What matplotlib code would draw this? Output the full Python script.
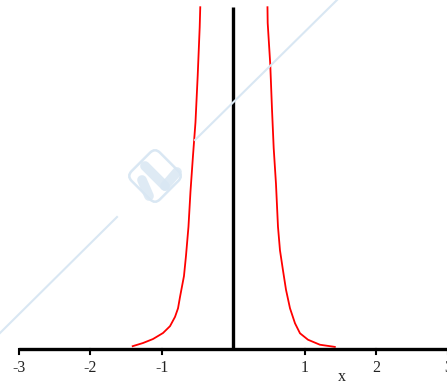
import numpy as np
import matplotlib
matplotlib.use("Agg")
import matplotlib.pyplot as plt
from matplotlib import transforms
from matplotlib.patches import FancyBboxPatch

# curve (left and right branches)
x_left = [-1.407, -1.263, -1.123, -0.983, -0.885, -0.815, -0.773, -0.745,
          -0.69, -0.662, -0.627, -0.599, -0.564, -0.529, -0.498, -0.47, -0.462]
y_left = [0.04, 0.084, 0.14, 0.224, 0.32, 0.45, 0.57, 0.73,
          1.02, 1.30, 1.71, 2.20, 2.70, 3.17, 3.82, 4.50, 4.78]
x_right = [0.478, 0.481, 0.517, 0.541, 0.565, 0.597, 0.625, 0.653, 0.695,
           0.737, 0.793, 0.863, 0.933, 1.045, 1.212, 1.42]
y_right = [4.78, 4.56, 3.98, 3.36, 2.81, 2.31, 1.71, 1.38, 1.10,
           0.83, 0.57, 0.36, 0.22, 0.13, 0.06, 0.03]

ticks = [-3, -2, -1, 1, 2, 3]
tick_labels = ["-3", "-2", "-1", "1", "2", "3"]
y_top = 4.78

W, H = 447, 385
fig = plt.figure(figsize=(W / 100, H / 100), dpi=100)
ax = fig.add_axes([0, 0, 1, 1])
ax.set_xlim(-3.263, 2.989)
ax.set_ylim(-0.503, 4.881)
ax.axis("off")

wm = "#d9e7f3"
# watermark diagonal with a gap for the logo
fig.add_artist(plt.Line2D([0, 117 / W], [1 - 333 / H, 1 - 217 / H], color=wm, lw=1.5,
                          transform=fig.transFigure))
fig.add_artist(plt.Line2D([195 / W, 337 / W], [1 - 140 / H, 1.0], color=wm, lw=1.5,
                          transform=fig.transFigure))
cx, cy = 155, H - 176
tr = transforms.Affine2D().rotate_deg(45).translate(cx, cy)
box = FancyBboxPatch((-20, -20), 40, 40, boxstyle="round,pad=0,rounding_size=7",
                     fill=False, ec=wm, lw=1.8, transform=tr)
fig.add_artist(box)
for (x0, y0), (x1, y1) in [((142, 180), (149, 196)), ((145, 166), (165, 186)),
                           ((165, 186), (177, 172))]:
    fig.add_artist(plt.Line2D([x0 / W, x1 / W], [1 - y0 / H, 1 - y1 / H], color=wm,
                              lw=7, solid_capstyle="round", alpha=0.85,
                              transform=fig.transFigure))

# axes
ax.plot([-3.0, 3.1], [0, 0], color="black", lw=2.4, solid_capstyle="butt", zorder=3)
ax.plot([0, 0], [0, y_top], color="black", lw=2.4, solid_capstyle="butt", zorder=3)
for t, lab in zip(ticks, tick_labels):
    ax.plot([t, t], [0, -0.07], color="black", lw=1.5, zorder=3)
    ax.text(t, -0.26, lab, ha="center", va="center", fontsize=11.5,
            family="Liberation Serif", color="#222222")
ax.text(1.52, -0.395, "x", ha="center", va="center", fontsize=11.5,
        family="Liberation Serif", color="#222222")

# curve
ax.plot(x_left, y_left, color="#ff0000", lw=1.3, zorder=2)
ax.plot(x_right, y_right, color="#ff0000", lw=1.3, zorder=2)

fig.savefig("out.png", dpi=100)
